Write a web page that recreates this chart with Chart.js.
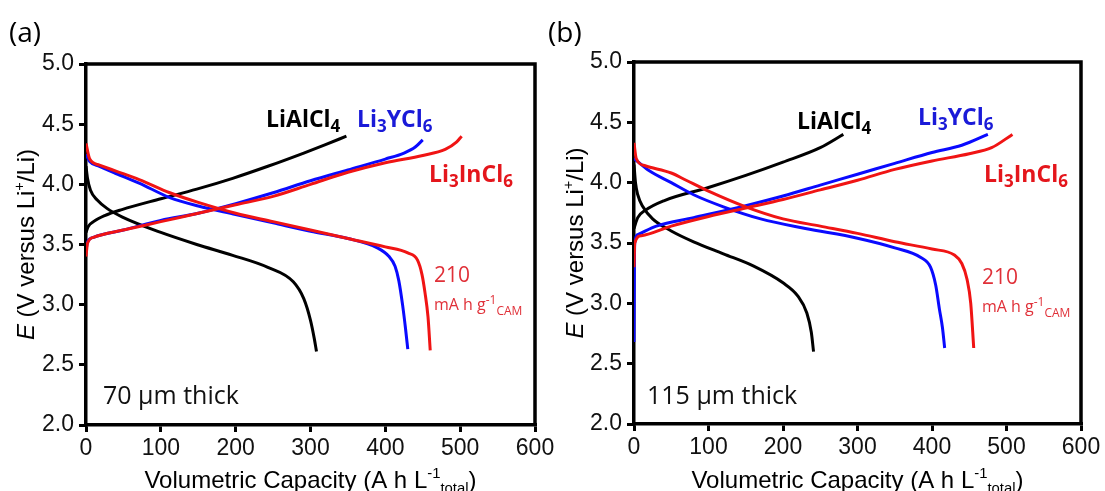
<!DOCTYPE html>
<html>
<head>
<meta charset="utf-8">
<script src="https://cdn.jsdelivr.net/npm/chart.js@4.4.1/dist/chart.umd.min.js"></script>
<style>
  html, body { margin: 0; padding: 0; background: #fff; }
  body { width: 1105px; height: 491px; position: relative; overflow: hidden; }
  canvas { position: absolute; top: 0; }
  #panelA { left: 0; }
  #panelB { left: 545px; }
</style>
</head>
<body>
<canvas id="panelA" width="560" height="491"></canvas>
<canvas id="panelB" width="560" height="491"></canvas>
<script>
// axis ticks
const xTicks = [0, 100, 200, 300, 400, 500, 600];
const yTicks = [2.0, 2.5, 3.0, 3.5, 4.0, 4.5, 5.0];

// (a) 70 um thick : [capacity, voltage]
const aAlCharge = [[0,3.60],[3,3.65],[10,3.69],[25,3.74],[48,3.79],[100,3.88],[148,3.96],[196,4.05],[243,4.15],[291,4.26],[320,4.33],[348,4.40]];
const aAlDischarge = [[0,4.15],[2,4.05],[6,3.95],[15,3.87],[28,3.80],[48,3.73],[100,3.60],[148,3.50],[196,3.41],[243,3.31],[277,3.19],[291,3.05],[300,2.87],[305,2.72],[308,2.61]];
const aYCharge = [[0,3.45],[2,3.52],[10,3.56],[50,3.62],[100,3.70],[150,3.76],[200,3.84],[250,3.93],[300,4.03],[350,4.12],[400,4.21],[425,4.26],[440,4.31],[450,4.37]];
const aYDischarge = [[0,4.25],[5,4.19],[18,4.15],[40,4.09],[71,4.01],[112,3.89],[150,3.82],[200,3.75],[250,3.68],[300,3.61],[350,3.55],[390,3.47],[405,3.40],[413,3.32],[418,3.20],[423,3.00],[427,2.80],[430,2.63]];
const aInCharge = [[0,3.40],[2,3.51],[10,3.56],[50,3.62],[100,3.69],[150,3.76],[200,3.83],[250,3.90],[300,4.00],[350,4.10],[400,4.18],[450,4.24],[480,4.29],[495,4.35],[502,4.40]];
const aInDischarge = [[0,4.34],[5,4.21],[18,4.16],[40,4.11],[71,4.04],[112,3.93],[150,3.85],[200,3.76],[250,3.69],[300,3.62],[350,3.55],[400,3.48],[430,3.43],[443,3.37],[449,3.25],[453,3.10],[457,2.90],[460,2.62]];

// (b) 115 um thick : [capacity, voltage]
const bAlCharge = [[0,3.62],[5,3.71],[15,3.77],[40,3.85],[100,3.96],[150,4.06],[200,4.17],[250,4.29],[281,4.40]];
const bAlDischarge = [[0,4.15],[2,4.00],[5,3.90],[12,3.80],[25,3.70],[50,3.60],[80,3.51],[120,3.41],[160,3.31],[200,3.17],[220,3.06],[232,2.92],[238,2.76],[241,2.60]];
const bYCharge = [[0,2.68],[0.5,3.30],[1,3.50],[5,3.57],[30,3.64],[80,3.71],[150,3.81],[200,3.89],[250,3.98],[300,4.07],[350,4.16],[400,4.25],[440,4.31],[475,4.40]];
const bYDischarge = [[0,4.20],[20,4.10],[50,4.00],[80,3.90],[120,3.80],[170,3.70],[230,3.62],[300,3.54],[350,3.46],[385,3.38],[398,3.30],[405,3.15],[410,2.95],[414,2.80],[417,2.63]];
const bInCharge = [[0,3.30],[1,3.50],[10,3.56],[50,3.64],[100,3.72],[150,3.79],[200,3.86],[250,3.94],[300,4.02],[350,4.11],[400,4.18],[450,4.24],[480,4.29],[508,4.40]];
const bInDischarge = [[0,4.33],[3,4.20],[15,4.14],[50,4.08],[70,4.02],[100,3.93],[150,3.80],[200,3.70],[250,3.64],[300,3.58],[350,3.51],[400,3.45],[430,3.40],[440,3.33],[447,3.20],[452,3.00],[456,2.63]];

const RED = '#f01414';
const BLUE = '#0a0aff';
const BLACK = '#000000';
const FONT = '"Liberation Sans", Arial, sans-serif';
const LABEL_FONT = '"Open Sans", sans-serif';

function toPts(arr) {
  return arr.map(p => ({x: p[0], y: p[1]}));
}

// draws text made of parts: [text, kind] with kind '', 'sub', 'sup', 'it'
function richWidth(ctx, parts, size, weight, family, small) {
  let w = 0;
  parts.forEach(([t, k]) => {
    const fs = (k === 'sub' || k === 'sup') ? size * small : size;
    ctx.font = (k === 'it' ? 'italic ' : '') + weight + ' ' + fs + 'px ' + family;
    w += ctx.measureText(t).width;
  });
  return w;
}
function drawRich(ctx, parts, x, y, o) {
  const size = o.size, weight = o.weight || 'normal', small = o.small || 0.62;
  let cx = x;
  if (o.align === 'center') cx = x - richWidth(ctx, parts, size, weight, o.family, small) / 2;
  ctx.fillStyle = o.color || '#000';
  ctx.textBaseline = 'alphabetic';
  ctx.textAlign = 'left';
  parts.forEach(([t, k]) => {
    const isSmall = (k === 'sub' || k === 'sup');
    const fs = isSmall ? size * small : size;
    ctx.font = (k === 'it' ? 'italic ' : '') + weight + ' ' + fs + 'px ' + o.family;
    const dy = k === 'sub' ? size * (o.subDy || 0.28) : (k === 'sup' ? -size * 0.4 : 0);
    ctx.fillText(t, cx, y + dy);
    cx += ctx.measureText(t).width;
  });
}

function makePanel(canvas, p) {
  const sets = [
    {data: toPts(p.inChg), color: RED}, {data: toPts(p.inDis), color: RED},
    {data: toPts(p.yChg), color: BLUE}, {data: toPts(p.yDis), color: BLUE},
    {data: toPts(p.alChg), color: BLACK}, {data: toPts(p.alDis), color: BLACK}
  ];

  const decor = {
    id: 'decor',
    afterDraw(chart) {
      const ctx = chart.ctx, a = chart.chartArea;
      ctx.save();
      // box frame
      ctx.strokeStyle = '#000';
      ctx.lineWidth = 3.5;
      ctx.beginPath();
      ctx.moveTo(a.left, a.top); ctx.lineTo(a.right, a.top); ctx.lineTo(a.right, a.bottom);
      ctx.stroke();

      // axis titles
      const cx = (a.left + a.right) / 2;
      drawRich(ctx, [['Volumetric Capacity (A h L', ''], ['-1', 'sup'], ['total', 'sub'], [')', '']],
        cx, 488, {size: 24, family: FONT, align: 'center', small: 0.62, subDy: 0.2});
      ctx.save();
      ctx.translate(p.yTitleX, (a.top + a.bottom) / 2);
      ctx.rotate(-Math.PI / 2);
      drawRich(ctx, [['E', 'it'], [' (V versus Li', ''], ['+', 'sup'], ['/Li)', '']],
        0, 8, {size: 24, family: FONT, align: 'center', small: 0.6});
      ctx.restore();

      // panel letter
      ctx.fillStyle = '#000';
      ctx.font = '28px ' + LABEL_FONT;
      ctx.fillText(p.letter, p.letterX, 42);

      // compound labels
      const lab = {size: 23, weight: 'bold', family: LABEL_FONT, small: 0.74, subDy: 0.22};
      drawRich(ctx, [['LiAlCl', ''], ['4', 'sub']], p.alLab[0], p.alLab[1], Object.assign({color: '#000'}, lab));
      drawRich(ctx, [['Li', ''], ['3', 'sub'], ['YCl', ''], ['6', 'sub']], p.yLab[0], p.yLab[1], Object.assign({color: '#1a1ad8'}, lab));
      drawRich(ctx, [['Li', ''], ['3', 'sub'], ['InCl', ''], ['6', 'sub']], p.inLab[0], p.inLab[1], Object.assign({color: '#e4161c'}, lab));

      // rate note
      drawRich(ctx, [['210', '']], p.rate[0], p.rate[1], {size: 21, family: LABEL_FONT, color: '#e03038'});
      drawRich(ctx, [['mA h g', ''], ['-1', 'sup'], ['CAM', 'sub']], p.rate[0], p.rate[1] + 28,
        {size: 16, family: LABEL_FONT, color: '#e03038', small: 0.75, subDy: 0.3});

      // thickness
      drawRich(ctx, [[p.thick, '']], p.thickX, 404, {size: 25, family: LABEL_FONT, color: '#111'});
      ctx.restore();
    }
  };

  return new Chart(canvas, {
    type: 'scatter',
    data: {
      datasets: sets.map(s => ({
        data: s.data,
        showLine: true,
        borderColor: s.color,
        borderWidth: 3,
        pointRadius: 0,
        fill: false,
        cubicInterpolationMode: 'monotone'
      }))
    },
    options: {
      responsive: false,
      animation: false,
      devicePixelRatio: 1,
      layout: {padding: {left: 0, top: p.top, right: p.right, bottom: 0}},
      plugins: {legend: {display: false}, tooltip: {enabled: false}},
      scales: {
        x: {
          type: 'linear', min: 0, max: 600,
          afterBuildTicks: s => { s.ticks = xTicks.map(v => ({value: v})); },
          afterFit: s => { s.height = p.xHeight; },
          ticks: {color: '#111', font: {family: FONT, size: 23}, padding: 3, maxRotation: 0},
          grid: {display: true, drawOnChartArea: false, drawTicks: true, tickLength: 7, lineWidth: 3, color: '#000'},
          border: {display: true, width: 3.5, color: '#000'}
        },
        y: {
          type: 'linear', min: 2, max: 5,
          afterBuildTicks: s => { s.ticks = yTicks.map(v => ({value: v})); },
          afterFit: s => { s.width = p.yWidth; },
          ticks: {color: '#111', font: {family: FONT, size: 23}, padding: 5, callback: v => v.toFixed(1)},
          grid: {display: true, drawOnChartArea: false, drawTicks: true, tickLength: 7, lineWidth: 3, color: '#000'},
          border: {display: true, width: 3.5, color: '#000'}
        }
      }
    },
    plugins: [decor]
  });
}

makePanel(document.getElementById('panelA'), {
  alChg: aAlCharge, alDis: aAlDischarge, yChg: aYCharge, yDis: aYDischarge, inChg: aInCharge, inDis: aInDischarge,
  top: 64, right: 25, yWidth: 86, xHeight: 66, yTitleX: 26,
  letter: '(a)', letterX: 9,
  alLab: [266, 127], yLab: [357, 127], inLab: [429, 182], rate: [434, 282],
  thick: '70 \u00b5m thick', thickX: 103
});

makePanel(document.getElementById('panelB'), {
  alChg: bAlCharge, alDis: bAlDischarge, yChg: bYCharge, yDis: bYDischarge, inChg: bInCharge, inDis: bInDischarge,
  top: 62, right: 24, yWidth: 89, xHeight: 67, yTitleX: 30,
  letter: '(b)', letterX: 3,
  alLab: [252, 129], yLab: [373, 125], inLab: [439, 182], rate: [437, 284],
  thick: '115 \u00b5m thick', thickX: 102
});
</script>
</body>
</html>
